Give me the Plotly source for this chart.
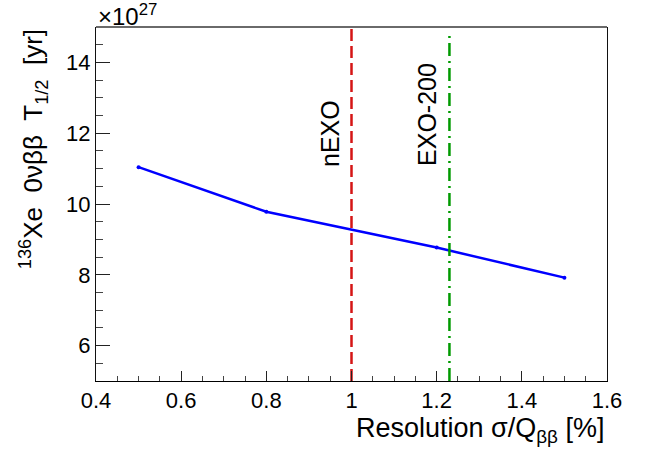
import plotly.graph_objects as go

# Data (half-life in units of 1e27 yr)
resolution = [0.5, 0.8, 1.2, 1.5]
halflife = [11.04, 9.78, 8.77, 7.92]

nexo_x = [1.0, 1.0]
nexo_y = [5.0, 15.0]
exo_x = [1.23, 1.23]
exo_y = [5.0, 14.8]

x_range = [0.4, 1.6]
y_range = [5, 15]

FONT = "Liberation Sans, Arial, Helvetica, sans-serif"

fig = go.Figure()

fig.add_trace(go.Scatter(x=resolution, y=halflife, mode="lines+markers",
                         line=dict(color="#0000ff", width=2.5),
                         marker=dict(color="#0000ff", size=4),
                         showlegend=False, hoverinfo="skip"))
fig.add_trace(go.Scatter(x=nexo_x, y=nexo_y, mode="lines",
                         line=dict(color="#d51515", width=2.5, dash="12px,5px"),
                         showlegend=False, hoverinfo="skip"))
fig.add_trace(go.Scatter(x=exo_x, y=exo_y, mode="lines",
                         line=dict(color="#009a00", width=2.5, dash="13px,5px,2px,5px"),
                         showlegend=False, hoverinfo="skip"))

fig.update_layout(
    width=649, height=456,
    margin=dict(l=96, r=42, t=27, b=75),
    paper_bgcolor="white", plot_bgcolor="white",
    font=dict(family=FONT, color="black", size=22),
    showlegend=False,
)

fig.update_xaxes(range=x_range, dtick=0.2, tick0=0.4, showgrid=False, zeroline=False,
                 ticks="inside", ticklen=10, tickwidth=1, tickcolor="#222",
                 showline=True, linecolor="black", linewidth=1, mirror=False,
                 tickfont=dict(size=22, family=FONT),
                 minor=dict(dtick=0.05, ticks="inside", ticklen=5, tickcolor="#444", showgrid=False))
fig.update_yaxes(range=y_range, dtick=2, tick0=0, showgrid=False, zeroline=False,
                 ticks="inside", ticklen=14, tickwidth=1, tickcolor="#222",
                 showline=True, linecolor="#111", linewidth=1, mirror=True,
                 tickfont=dict(size=22, family=FONT),
                 minor=dict(dtick=0.5, ticks="inside", ticklen=7, tickcolor="#444", showgrid=False))

# top frame (gray)
fig.add_shape(type="line", xref="paper", yref="paper", x0=0, x1=1, y0=1, y1=1,
              line=dict(color="#6a6a6a", width=2))

# Axis titles
fig.add_annotation(text="Resolution σ/Q<sub>ββ</sub> [%]", xref="paper", yref="paper",
                   x=1, y=0, xanchor="right", yanchor="top", yshift=-30,
                   showarrow=False, font=dict(size=27, family=FONT))
fig.add_annotation(text="<sup>136</sup>Xe  0νββ  T<sub>1/2</sub>  [yr]", xref="paper", yref="paper",
                   x=-0.123, y=1, xanchor="center", yanchor="top", textangle=-90,
                   showarrow=False, font=dict(size=26, family=FONT))
fig.add_annotation(text="×10<sup>27</sup>", xref="paper", yref="paper",
                   x=0, y=1, xanchor="left", yanchor="bottom", yshift=-5,
                   showarrow=False, font=dict(size=24, family=FONT))

# Line labels
fig.add_annotation(text="nEXO", x=0.949, y=12.0, textangle=-90, showarrow=False,
                   font=dict(size=25, family=FONT))
fig.add_annotation(text="EXO-200", x=1.177, y=12.54, textangle=-90, showarrow=False,
                   font=dict(size=25, family=FONT))

fig.write_html("out.html", config={"displayModeBar": False},
               post_script="document.body.style.margin='0';document.body.style.padding='0';")
